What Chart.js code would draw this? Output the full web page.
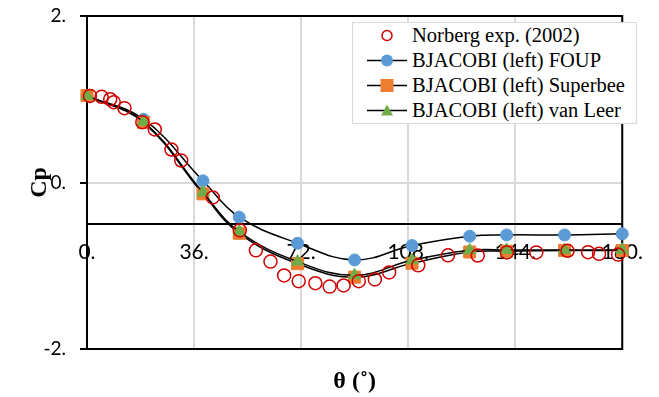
<!DOCTYPE html>
<html>
<head>
<meta charset="utf-8">
<script src="https://cdn.jsdelivr.net/npm/chart.js@4.4.0/dist/chart.umd.min.js"></script>
<style>
  html, body { margin: 0; padding: 0; background: #fff; }
  #wrap { position: relative; width: 659px; height: 397px; }
  #legend {
    position: absolute; left: 352px; top: 22px; width: 283px;
    border: 1px solid #d9d9d9; background: #fff;
    font-family: 'Liberation Serif', serif; font-size: 20.5px; color: #000;
  }
  .row { height: 25px; display: flex; align-items: center; white-space: nowrap; }
  .row svg { margin-left: 14px; margin-right: 3px; flex: none; }
</style>
</head>
<body>
<div id="wrap">
  <canvas id="c" width="659" height="397"></canvas>
  <div id="legend"></div>
</div>
<script>
// ── Cp distribution around the cylinder ──

// Norberg exp. (2002)
const thetaExp = [1, 4.9, 7.8, 9, 12.6, 18.6, 22.8, 28.4, 31.7, 42.3, 51.4, 56.8, 61.7, 66.3, 71.2,
                  76.8, 81.6, 86.3, 91.4, 96.8, 101.6, 111.4, 121.4, 131.4, 141.2, 151.1, 161.6,
                  168.5, 172.2, 178.6];
const cpExp    = [1.04, 1.03, 1.0, 0.965, 0.893, 0.725, 0.637, 0.396, 0.264, -0.18, -0.575, -0.815,
                  -0.95, -1.117, -1.185, -1.21, -1.25, -1.237, -1.185, -1.165, -1.08, -0.995, -0.875,
                  -0.877, -0.84, -0.84, -0.82, -0.837, -0.857, -0.866];

// BJACOBI (left) simulations
const thetaSim   = [0, 19, 39, 51.2, 70.8, 90, 109.3, 128.7, 141.1, 160.6, 180];
const cpFoup     = [1.04, 0.76, 0.02, -0.417, -0.73, -0.93, -0.757, -0.645, -0.63, -0.63, -0.617];
const cpSuperbee = [1.045, 0.72, -0.136, -0.61, -0.975, -1.137, -0.97, -0.835, -0.825, -0.817, -0.817];
const cpVanLeer  = [1.04, 0.73, -0.12, -0.59, -0.95, -1.115, -0.935, -0.815, -0.81, -0.81, -0.81];

const xTicks = [0, 36, 72, 108, 144, 180];
const yTicks = [-2, 0, 2];

const seriesNames = ['Norberg exp. (2002)', 'BJACOBI (left) FOUP', 'BJACOBI (left) Superbee', 'BJACOBI (left) van Leer'];

const RED    = '#d00000';
const BLUE   = '#5b9bd5';
const ORANGE = '#ed7d31';
const GREEN  = '#70ad47';
const GRID   = '#d9d9d9';

const pts = (xs, ys) => xs.map((x, i) => ({ x, y: ys[i] }));

function simSet(label, ys, color, style, radius, order) {
  return {
    label,
    data: pts(thetaSim, ys),
    xAxisID: 'x',
    borderColor: '#000',
    borderWidth: 1.5,
    tension: 0.4,
    pointStyle: style,
    pointRadius: radius,
    pointBackgroundColor: color,
    pointBorderColor: color,
    pointBorderWidth: 1,
    clip: false,
    order,
  };
}

// cadre noir autour de la zone de tracé
const plotFrame = {
  id: 'plotFrame',
  beforeDatasetsDraw(chart) {
    const { ctx, chartArea: a } = chart;
    ctx.save();
    ctx.strokeStyle = '#000';
    ctx.lineWidth = 2;
    ctx.strokeRect(a.left, a.top, a.right - a.left, a.bottom - a.top);
    ctx.restore();
  }
};

const xTickFont = { family: 'Lato', size: 21 };
const yTickFont = { family: 'Lato', size: 19 };
const titleFont = { family: 'Liberation Serif', size: 24, weight: 'bold' };

new Chart(document.getElementById('c'), {
  type: 'line',
  data: {
    datasets: [
      {
        label: seriesNames[0],
        data: pts(thetaExp, cpExp),
        xAxisID: 'x',
        showLine: false,
        pointStyle: 'circle',
        pointRadius: 6.5,
        pointBackgroundColor: 'rgba(0,0,0,0)',
        pointBorderColor: RED,
        pointBorderWidth: 1.5,
        clip: false,
        order: 0,
      },
      simSet(seriesNames[1], cpFoup, BLUE, 'circle', 6, 3),
      simSet(seriesNames[2], cpSuperbee, ORANGE, 'rect', 8.5, 2),
      simSet(seriesNames[3], cpVanLeer, GREEN, 'triangle', 7, 1),
    ]
  },
  options: {
    responsive: false,
    animation: false,
    layout: { padding: { top: 16, right: 28, bottom: 0, left: 0 } },
    plugins: { legend: { display: false }, tooltip: { enabled: false } },
    scales: {
      x: {
        type: 'linear', min: 0, max: 180,
        afterBuildTicks: s => { s.ticks = xTicks.map(v => ({ value: v })); },
        afterFit: s => { s.height = 48; },
        grid: { color: GRID, lineWidth: 2, drawTicks: false },
        border: { display: false },
        ticks: { display: false },
        title: { display: true, text: 'θ (˚)', color: '#000', font: titleFont, padding: { top: 0, bottom: 1 } }
      },
      xCross: {
        type: 'linear', axis: 'x', min: 0, max: 180,
        position: { y: -0.5 },
        z: 1,
        afterBuildTicks: s => { s.ticks = xTicks.map(v => ({ value: v })); },
        grid: { display: false, drawTicks: false },
        border: { display: true, color: '#000', width: 2 },
        ticks: { callback: v => v + '.', color: '#000', font: xTickFont, padding: 16, maxRotation: 0, autoSkip: false }
      },
      y: {
        type: 'linear', min: -2, max: 2,
        afterBuildTicks: s => { s.ticks = yTicks.map(v => ({ value: v })); },
        afterFit: s => { s.width = 87; s.paddingTop = 0; s.paddingBottom = 0; },
        grid: { color: GRID, lineWidth: 2, tickLength: 7, tickColor: '#000', tickWidth: 2 },
        border: { display: false },
        ticks: { callback: v => v + '.', color: '#000', font: yTickFont, padding: 14 },
        title: { display: true, text: 'Cp', color: '#000', font: titleFont, padding: { top: 25, bottom: 0 } }
      }
    }
  },
  plugins: [plotFrame]
});

// ── légende dans la zone de tracé ──
const markers = [
  '<circle cx="20" cy="12.5" r="5" fill="none" stroke="' + RED + '" stroke-width="1.5"/>',
  '<line x1="0" y1="12.5" x2="40" y2="12.5" stroke="#000" stroke-width="1.5"/><circle cx="20" cy="12.5" r="6" fill="' + BLUE + '"/>',
  '<line x1="0" y1="12.5" x2="40" y2="12.5" stroke="#000" stroke-width="1.5"/><rect x="13.5" y="6" width="13" height="13" fill="' + ORANGE + '"/>',
  '<line x1="0" y1="12.5" x2="40" y2="12.5" stroke="#000" stroke-width="1.5"/><polygon points="20,6.5 26,17.5 14,17.5" fill="' + GREEN + '"/>',
];
document.getElementById('legend').innerHTML = seriesNames.map((name, i) =>
  `<div class="row"><svg width="42" height="25">${markers[i]}</svg><span>${name}</span></div>`
).join('');
</script>
</body>
</html>
